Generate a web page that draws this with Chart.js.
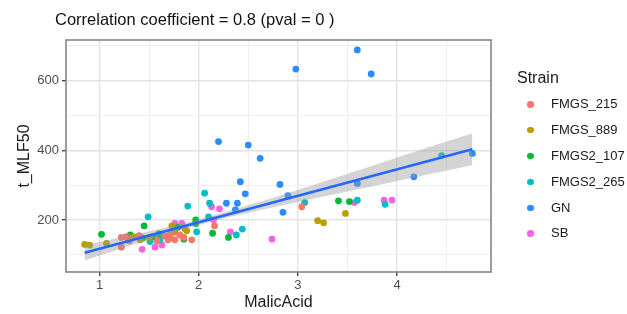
<!DOCTYPE html>
<html lang="en">
<head>
    <meta charset="UTF-8">
    <title>t_MLF50 vs MalicAcid</title>
    <script src="https://cdn.jsdelivr.net/npm/chart.js"></script>
    <style>
        body { margin: 0; background: #fff; font-family: "Liberation Sans", Arial, sans-serif; }
        #wrap { position: relative; width: 627px; height: 314px; }
        #title { position: absolute; left: 55px; top: 10px; font-size: 16.5px; color: #111; white-space: nowrap; }
        #legend { position: absolute; left: 517px; top: 67px; color: #1a1a1a; }
        #legend .head { font-size: 16px; height: 24px; line-height: 22px; }
        #legend .item { position: relative; height: 25.9px; font-size: 13px; line-height: 25.9px; padding-left: 34px; white-space: nowrap; }
        #legend .dot { position: absolute; left: 10px; top: 10px; width: 6.5px; height: 6.5px; border-radius: 50%; }
    </style>
</head>
<body>
<div id="wrap">
    <canvas id="chart" width="627" height="314"></canvas>
    <div id="title">Correlation coefficient = 0.8 (pval = 0 )</div>
    <div id="legend"></div>
</div>

<script>
    // values
    const strainNames = ['FMGS_215', 'FMGS_889', 'FMGS2_107', 'FMGS2_265', 'GN', 'SB'];
    const strainColors = ['#F8766D', '#B79F00', '#00BA38', '#00BFC4', '#2B8CFF', '#F564E3'];

    const fmgs215X = [1.22, 1.27, 1.22, 1.30, 1.40, 1.58, 1.66, 1.69, 1.72, 1.76, 1.81, 1.85, 1.93, 2.16, 3.04];
    const fmgs215Y = [150, 152, 122, 140, 155, 140, 154, 143, 160, 143, 157, 150, 143, 183, 238];

    const fmgs889X = [0.85, 0.90, 1.07, 1.34, 1.41, 1.50, 1.71, 1.73, 1.76, 1.86, 1.88, 3.20, 3.26, 3.48];
    const fmgs889Y = [130, 128, 133, 152, 143, 150, 147, 183, 165, 175, 169, 198, 192, 219];

    const fmgs2107X = [1.02, 1.31, 1.44, 1.45, 1.54, 1.60, 1.79, 1.85, 1.97, 1.97, 2.14, 2.30, 3.41, 3.52];
    const fmgs2107Y = [159, 157, 149, 183, 152, 160, 179, 145, 200, 190, 162, 150, 255, 253];

    const fmgs2265X = [1.49, 1.51, 1.61, 1.70, 1.76, 1.89, 1.98, 2.06, 2.10, 2.11, 2.38, 2.44, 3.07, 3.60, 3.88, 4.45];
    const fmgs2265Y = [209, 138, 143, 155, 171, 240, 166, 277, 209, 248, 157, 174, 250, 257, 245, 385];

    const gnX = [2.20, 2.28, 2.37, 2.39, 2.42, 2.47, 2.50, 2.62, 2.82, 2.85, 2.90, 2.98, 3.60, 3.60, 3.74, 4.17, 4.76];
    const gnY = [425, 248, 229, 248, 310, 275, 415, 377, 302, 222, 270, 633, 688, 305, 619, 324, 391];

    const sbX = [1.29, 1.43, 1.56, 1.63, 1.76, 1.83, 2.13, 2.15, 2.21, 2.32, 2.74, 3.57, 3.87, 3.95];
    const sbY = [145, 116, 122, 128, 190, 190, 238, 200, 232, 166, 145, 250, 257, 257];

    // fitted line and its grey band
    const fitX = [0.85, 4.76];
    const fitY = [106, 403];
    const bandX = [0.85, 1.2, 1.6, 2.07, 2.6, 3.2, 3.8, 4.3, 4.76];
    const bandUpper = [128, 149, 174, 207, 251, 305, 360, 407, 449];
    const bandLower = [84, 116, 152, 191, 227, 264, 300, 330, 357];

    const xTicks = [1, 1.5, 2, 2.5, 3, 3.5, 4, 4.5];
    const yTicks = [100, 200, 300, 400, 500, 600, 700];
    const yLabels = [200, 400, 600];

    function pts(xs, ys) {
        return xs.map((x, i) => ({ x: x, y: ys[i] }));
    }

    const strainData = [
        pts(fmgs215X, fmgs215Y), pts(fmgs889X, fmgs889Y), pts(fmgs2107X, fmgs2107Y),
        pts(fmgs2265X, fmgs2265Y), pts(gnX, gnY), pts(sbX, sbY)
    ];

    // legend
    const legend = document.getElementById('legend');
    legend.innerHTML = '<div class="head">Strain</div>' + strainNames.map((n, i) =>
        `<div class="item"><span class="dot" style="background:${strainColors[i]}"></span>${n}</div>`).join('');

    const panelBorder = {
        id: 'panelBorder',
        afterDatasetsDraw(chart) {
            const a = chart.chartArea;
            const ctx = chart.ctx;
            ctx.save();
            ctx.strokeStyle = '#858585';
            ctx.lineWidth = 1.6;
            ctx.strokeRect(a.left, a.top, a.right - a.left, a.bottom - a.top);
            ctx.restore();
        }
    };

    const datasets = [
        {
            type: 'line', data: pts(fitX, fitY), borderColor: '#2468FF', borderWidth: 2.6,
            pointRadius: 0, fill: false, order: 0
        },
        {
            type: 'line', data: pts(bandX, bandUpper), borderWidth: 0, pointRadius: 0,
            tension: 0.3, fill: '+1', backgroundColor: 'rgba(153,153,153,0.42)', order: 1
        },
        {
            type: 'line', data: pts(bandX, bandLower), borderWidth: 0, pointRadius: 0,
            tension: 0.3, fill: false, order: 1
        }
    ];
    strainNames.forEach((n, i) => {
        datasets.push({
            label: n, data: strainData[i], backgroundColor: strainColors[i],
            borderWidth: 0, pointRadius: 3.4, order: 2
        });
    });

    const tickFont = { family: 'Liberation Sans', size: 13 };
    const titleFont = { family: 'Liberation Sans', size: 16 };

    new Chart(document.getElementById('chart'), {
        type: 'scatter',
        data: { datasets: datasets },
        options: {
            responsive: false,
            animation: false,
            layout: { padding: { top: 40, right: 136, left: 0, bottom: 0 } },
            plugins: { legend: { display: false }, tooltip: { enabled: false } },
            scales: {
                x: {
                    type: 'linear', min: 0.662, max: 4.948,
                    afterBuildTicks: s => { s.ticks = xTicks.map(v => ({ value: v })); },
                    afterFit: s => { s.height = 42; },
                    ticks: {
                        autoSkip: false, maxRotation: 0, padding: 2, color: '#4d4d4d', font: tickFont,
                        callback: v => Number.isInteger(v) ? v : ''
                    },
                    grid: {
                        tickLength: 4,
                        color: c => c.tick && Number.isInteger(c.tick.value) ? '#e3e3e3' : '#f0f0f0',
                        lineWidth: c => c.tick && Number.isInteger(c.tick.value) ? 1.4 : 1,
                        tickColor: c => c.tick && Number.isInteger(c.tick.value) ? '#444' : 'rgba(0,0,0,0)'
                    },
                    border: { display: false },
                    title: { display: true, text: 'MalicAcid', color: '#1a1a1a', font: titleFont, padding: { top: 0, bottom: 1.4 } }
                },
                y: {
                    type: 'linear', min: 50.8, max: 716.5,
                    afterBuildTicks: s => { s.ticks = yTicks.map(v => ({ value: v })); },
                    afterFit: s => { s.width = 66; },
                    ticks: {
                        autoSkip: false, padding: 3, color: '#4d4d4d', font: tickFont,
                        callback: v => yLabels.includes(v) ? v : ''
                    },
                    grid: {
                        tickLength: 4,
                        color: c => c.tick && yLabels.includes(c.tick.value) ? '#e3e3e3' : '#f0f0f0',
                        lineWidth: c => c.tick && yLabels.includes(c.tick.value) ? 1.4 : 1,
                        tickColor: c => c.tick && yLabels.includes(c.tick.value) ? '#444' : 'rgba(0,0,0,0)'
                    },
                    border: { display: false },
                    title: { display: true, text: 't_MLF50', color: '#1a1a1a', font: titleFont, padding: { top: 15.4, bottom: 0 } }
                }
            }
        },
        plugins: [panelBorder]
    });
</script>
</body>
</html>
